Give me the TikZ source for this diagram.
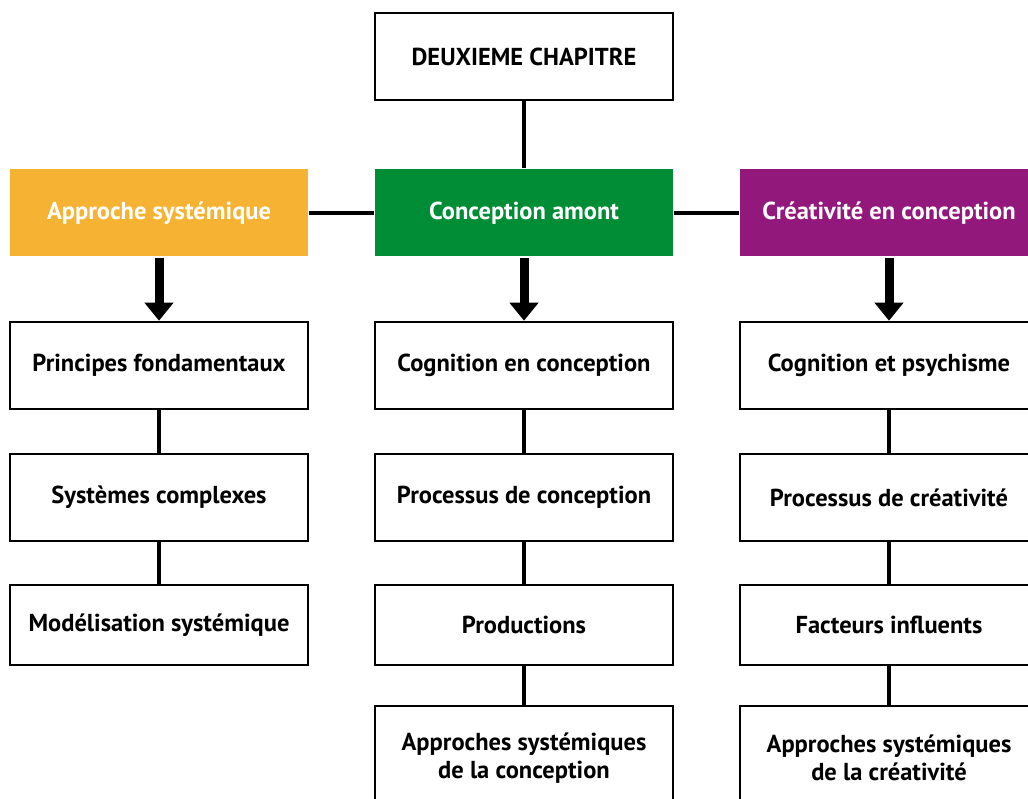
\documentclass[tikz,border=0pt]{standalone}
\usepackage{fontspec}
\setmainfont{PT Sans}
\usetikzlibrary{arrows.meta}
\definecolor{orangeA}{RGB}{246,178,51}
\definecolor{greenA}{RGB}{0,141,54}
\definecolor{purpleA}{RGB}{146,24,124}
\begin{document}
\begin{tikzpicture}[x=1pt,y=-1pt,
  box/.style={draw=black,line width=2.6pt,fill=white,minimum width=298pt,minimum height=87pt,
    inner sep=0pt,align=center,font=\bfseries\fontsize{24.5}{28}\selectfont,text=black},
  cbox/.style={box,draw=none,text=white},
  link/.style={line width=4.5pt},
  bigarrow/.style={line width=9pt,-{Triangle[width=28pt,length=18pt]}}
]
\useasboundingbox (0,0) rectangle (1028,799);
\clip (0,0) rectangle (1028,799);
% top
\node[box] (top) at (524,56.5) {DEUXIEME CHAPITRE};
% colored row
\node[cbox,fill=orangeA] (A) at (159,213) {Approche systémique};
\node[cbox,fill=greenA] (B) at (524,213) {Conception amont};
\node[cbox,fill=purpleA] (C) at (889,213) {Créativité en conception};
% left column
\node[box] (A1) at (159,365.5) {Principes fondamentaux};
\node[box] (A2) at (159,497.5) {Systèmes complexes};
\node[box,minimum height=80pt] (A3) at (159,625) {Modélisation systémique};
% middle column
\node[box] (B1) at (524,365.5) {Cognition en conception};
\node[box] (B2) at (524,497.5) {Processus de conception};
\node[box,minimum height=80pt] (B3) at (524,625) {Productions};
\node[box,minimum height=104pt] (B4) at (524,758) {Approches systémiques\\de la conception};
% right column
\node[box] (C1) at (889,365.5) {Cognition et psychisme};
\node[box] (C2) at (889,497.5) {Processus de créativité};
\node[box,minimum height=80pt] (C3) at (889,625) {Facteurs influents};
\node[box,minimum height=104pt] (C4) at (889,758) {Approches systémiques\\de la créativité};
% links
\draw[link] (top.south) -- (B.north);
\draw[link] (A.east) -- (B.west);
\draw[link] (B.east) -- (C.west);
\draw[bigarrow] (A.south) -- (A1.north);
\draw[bigarrow] (B.south) -- (B1.north);
\draw[bigarrow] (C.south) -- (C1.north);
\draw[link] (A1.south) -- (A2.north);
\draw[link] (A2.south) -- (A3.north);
\draw[link] (B1.south) -- (B2.north);
\draw[link] (B2.south) -- (B3.north);
\draw[link] (B3.south) -- (B4.north);
\draw[link] (C1.south) -- (C2.north);
\draw[link] (C2.south) -- (C3.north);
\draw[link] (C3.south) -- (C4.north);
\end{tikzpicture}
\end{document}
